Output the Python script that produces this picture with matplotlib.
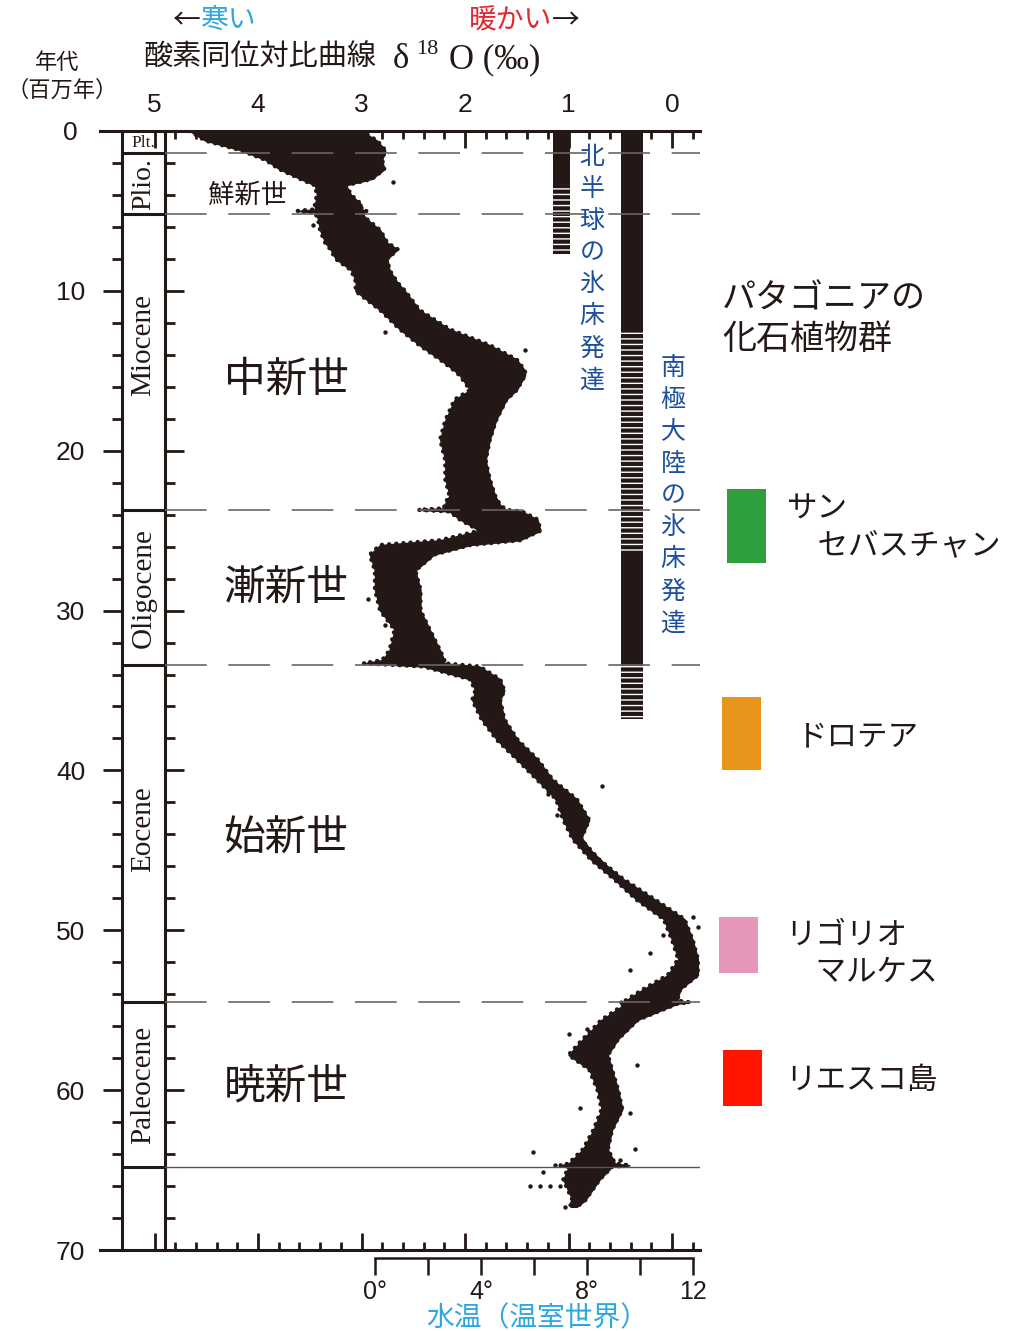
import numpy as np
import matplotlib.pyplot as plt
from matplotlib.ticker import MultipleLocator, FixedLocator, NullFormatter

ink = '#231815'
plt.rcParams['font.family'] = ['Noto Sans CJK JP', 'DejaVu Sans']
plt.rcParams['hatch.linewidth'] = 3.0
plt.rcParams['hatch.color'] = ink

# δ18O cloud: age (Ma), cold edge and warm edge (‰)
band_age = [0.0, 0.6, 1.2, 1.8, 2.4, 3.0, 3.4, 4.0, 4.6, 4.9,
            5.0, 5.1, 5.5, 6.2, 7.0, 7.4, 8.0, 8.7, 9.5, 10.0,
            11.2, 12.4, 13.4, 14.3, 15.0, 15.3, 16.2, 16.8, 18.1, 19.3,
            20.6, 21.8, 22.8, 23.4, 23.6, 23.7, 23.8, 24.3, 25.0, 25.6,
            25.9, 26.5, 27.5, 28.7, 30.0, 31.2, 32.5, 33.1, 33.3, 33.5,
            34.3, 35.0, 35.6, 36.8, 38.1, 39.3, 40.6, 41.8, 43.1, 44.3,
            45.6, 46.8, 48.1, 49.3, 50.6, 51.8, 52.8, 53.7, 54.4, 54.5,
            54.6, 55.6, 56.8, 57.8, 58.7, 60.0, 61.2, 62.5, 63.7, 64.6,
            64.7, 64.8, 65.6, 66.9, 67.3]
band_cold = [4.66, 4.51, 4.17, 3.93, 3.79, 3.59, 3.45, 3.43, 3.45, 3.45,
             3.62, 3.45, 3.42, 3.40, 3.35, 3.30, 3.25, 3.10, 3.05, 3.06,
             2.82, 2.63, 2.44, 2.24, 2.10, 2.05, 1.95, 2.10, 2.19, 2.24,
             2.19, 2.19, 2.15, 2.20, 2.20, 2.45, 2.15, 2.05, 1.86, 2.24,
             2.82, 2.92, 2.87, 2.87, 2.82, 2.68, 2.73, 2.80, 2.98, 2.40,
             1.95, 1.90, 1.93, 1.84, 1.69, 1.50, 1.30, 1.12, 1.05, 0.96,
             0.78, 0.56, 0.34, 0.08, 0.00, -0.06, 0.04, 0.28, 0.45, 0.50,
             0.45, 0.68, 0.86, 1.00, 0.80, 0.72, 0.68, 0.76, 0.86, 1.00,
             1.08, 1.00, 1.05, 0.96, 0.97]
band_warm = [3.00, 2.85, 2.77, 2.80, 2.78, 2.90, 3.15, 3.10, 3.00, 3.00,
             2.95, 3.00, 2.95, 2.82, 2.75, 2.65, 2.75, 2.73, 2.65, 2.58,
             2.44, 2.15, 1.76, 1.50, 1.42, 1.42, 1.50, 1.60, 1.70, 1.76,
             1.80, 1.76, 1.71, 1.66, 1.62, 1.60, 1.45, 1.30, 1.27, 1.47,
             1.95, 2.30, 2.48, 2.43, 2.43, 2.34, 2.24, 2.20, 2.20, 1.86,
             1.66, 1.62, 1.66, 1.62, 1.49, 1.30, 1.15, 0.92, 0.80, 0.88,
             0.70, 0.47, 0.16, -0.12, -0.20, -0.25, -0.25, -0.08, -0.05, -0.17,
             -0.05, 0.33, 0.52, 0.62, 0.58, 0.52, 0.48, 0.58, 0.62, 0.55,
             0.41, 0.58, 0.70, 0.84, 0.92]

# smoothed curve through the Paleogene part
line_age = [40.6, 42.8, 45.0, 46.8, 48.4, 50.0, 51.5, 52.8, 54.0, 55.0,
            56.8, 58.1, 60.0, 61.2, 63.1, 64.7, 66.2, 67.2]
line_d18o = [1.23, 1.03, 0.79, 0.50, 0.19, -0.06, -0.15, -0.11, 0.07, 0.26,
             0.58, 0.70, 0.67, 0.62, 0.70, 0.77, 0.89, 0.99]

# scattered single samples
dot_age = [3.2, 5.9, 7.2, 9.5, 12.6, 13.7, 18.7, 26.8, 29.3, 30.9,
           41.0, 41.5, 42.8, 47.9, 49.2, 49.8, 50.3, 51.4, 52.5, 56.2,
           56.5, 58.4, 61.1, 61.4, 63.7, 63.9, 64.4, 64.7, 65.1, 66.0,
           66.0, 66.0, 66.0, 67.3]
dot_d18o = [2.70, 3.47, 3.14, 3.04, 2.77, 1.42, 1.95, 2.90, 2.94, 2.77,
            0.68, 1.20, 1.11, 0.24, -0.20, -0.25, 0.09, 0.21, 0.41, 0.82,
            1.00, 0.34, 0.89, 0.41, 0.36, 1.34, 0.50, 1.13, 1.25, 1.37,
            1.28, 1.18, 1.08, 1.03]

# ice sheets: (start Ma, end Ma)
nh_solid = [(0.0, 3.3)]
nh_partial = [(3.3, 7.7)]
ant_solid = [(0.0, 12.6), (26.4, 33.3)]
ant_partial = [(12.6, 26.4), (33.3, 36.8)]

# epochs
epoch_bounds = [1.4, 5.2, 23.7, 33.4, 54.5, 64.8]
epoch_en = ['Plio.', 'Miocene', 'Oligocene', 'Eocene', 'Paleocene']
epoch_en_age = [3.3, 13.4, 28.6, 43.7, 59.7]
epoch_jp = ['鮮新世', '中新世', '漸新世', '始新世', '暁新世']
epoch_jp_age = [4.0, 15.6, 28.6, 44.3, 59.8]

# Patagonian fossil floras
flora_names = ['サン\n\u3000セバスチャン', 'ドロテア', 'リゴリオ\n\u3000マルケス', 'リエスコ島']
flora_start = [22.4, 35.4, 49.2, 57.5]
flora_end = [27.0, 40.0, 52.7, 61.0]
flora_colors = ['#2f9e3d', '#e8931a', '#e597b9', '#ff1500']

temp_ticks = [0, 2, 4, 6, 8, 10, 12]
temp_labels = ['0°', '', '4°', '', '8°', '', '12']

W, H = 1021, 1331
fig = plt.figure(figsize=(W / 100, H / 100), dpi=100)


def fx(x):
    return x / W


def fy(y):
    return 1 - y / H


def dpx(x):
    # pixel column -> δ18O value of main axes
    return (672 - x) / 103.5


ax = fig.add_axes([fx(100), fy(1250), fx(700) - fx(100), fy(131) - fy(1250)])
ax.set_xlim(dpx(100), dpx(700))
ax.set_ylim(70, 0)

ax.fill_betweenx(band_age, band_cold, band_warm, color=ink, lw=1.0)
# beaded edges give the sample-cloud look
for edge in (band_cold, band_warm):
    ax.plot(edge, band_age, color=ink, lw=3.2, ls=(0, (0.01, 1.6)),
            dash_capstyle='round')
ax.plot(line_d18o, line_age, color=ink, lw=1.6)
ax.scatter(dot_d18o, dot_age, s=10, color=ink, lw=0)

# ice-sheet bars
for spans, x, w, hatch in [(nh_solid, 1.068, 0.164, None), (nh_partial, 1.068, 0.164, '---'),
                           (ant_solid, 0.386, 0.213, None), (ant_partial, 0.386, 0.213, '---')]:
    for a0, a1 in spans:
        if hatch:
            ax.bar(x, a1 - a0, w, bottom=a0, facecolor='white', edgecolor=ink, hatch=hatch, lw=0)
        else:
            ax.bar(x, a1 - a0, w, bottom=a0, color=ink, lw=0)

# epoch column
col_l, col_r = dpx(122), dpx(165)
ax.hlines(epoch_bounds, col_l, col_r, color=ink, lw=2.2)
inner = (165 - 100) / 600
for b in epoch_bounds[:-1]:
    ax.axhline(b, inner, 1, color='#6b6363', lw=1.2, dashes=(25, 13))
ax.axhline(epoch_bounds[-1], inner, 1, color='#555', lw=1.0)

serif = ['Liberation Serif', 'DejaVu Serif']
colc = (col_l + col_r) / 2
ax.text(colc, 0.78, 'Plt.', ha='center', va='center', fontsize=12.5, family=serif, color=ink)
for name, age in zip(epoch_en, epoch_en_age):
    size = 20 if name == 'Plio.' else 21
    ax.text(colc, age, name, rotation=90, ha='center', va='center', fontsize=size,
            family=serif, color=ink)
for name, age in zip(epoch_jp, epoch_jp_age):
    if name == '鮮新世':
        ax.text(dpx(248), age, name, ha='center', va='center', fontsize=19, color=ink)
    else:
        ax.text(dpx(286), age, name, ha='center', va='center', fontsize=30, color=ink)

# vertical labels for ice sheets
for i, ch in enumerate('北半球の氷床発達'):
    ax.text(dpx(592), 1.6 + 2.0 * i, ch, ha='center', va='center', fontsize=18, color='#1e4f9c')
for i, ch in enumerate('南極大陸の氷床発達'):
    ax.text(dpx(673), 14.8 + 2.0 * i, ch, ha='center', va='center', fontsize=18, color='#1e4f9c')

# axes styling
ax.spines['right'].set_visible(False)
ax.spines['left'].set_position(('data', col_l))
for s in ['left', 'top', 'bottom']:
    ax.spines[s].set_linewidth(2.2)
    ax.spines[s].set_color(ink)

ax.xaxis.set_major_locator(FixedLocator([5, 4, 3, 2, 1, 0]))
ax.xaxis.set_minor_locator(FixedLocator([round(4.8 - 0.2 * i, 1) for i in range(26)]))
ax.tick_params(axis='x', which='both', top=True, bottom=True, labeltop=True, labelbottom=False,
               direction='in', color=ink, width=2)
ax.tick_params(axis='x', which='major', length=12, pad=10, labelsize=19,
               labelfontfamily='Liberation Sans', labelcolor=ink)
ax.tick_params(axis='x', which='minor', length=5.5)

ax.yaxis.set_major_locator(MultipleLocator(10))
ax.yaxis.set_minor_locator(MultipleLocator(2))
ax.tick_params(axis='y', which='both', direction='out', color=ink, width=2)
ax.tick_params(axis='y', which='major', length=14, pad=23, labelsize=19,
               labelfontfamily='Liberation Sans', labelcolor=ink)
ax.tick_params(axis='y', which='minor', length=7)
for lab in ax.get_yticklabels():
    lab.set_horizontalalignment('center')

sec = ax.secondary_yaxis(inner)
sec.yaxis.set_major_locator(MultipleLocator(10))
sec.yaxis.set_minor_locator(MultipleLocator(2))
sec.yaxis.set_major_formatter(NullFormatter())
sec.tick_params(axis='y', which='both', direction='in', color=ink, width=2,
                labelleft=False, labelright=False)
sec.tick_params(axis='y', which='major', length=14)
sec.tick_params(axis='y', which='minor', length=7)
for s in sec.spines.values():
    s.set_linewidth(2.2)
    s.set_color(ink)

# temperature scale below
axt = fig.add_axes([fx(375), fy(1258), fx(693) - fx(375), 0.002])
axt.set_xlim(0, 12)
axt.set_ylim(0, 1)
axt.set_yticks([])
for s in ['top', 'left', 'right']:
    axt.spines[s].set_visible(False)
axt.spines['bottom'].set_linewidth(1.8)
axt.spines['bottom'].set_color(ink)
axt.patch.set_alpha(0)
axt.set_xticks(temp_ticks, temp_labels)
axt.tick_params(axis='x', direction='out', length=12, width=1.8, color=ink, pad=4,
                labelsize=18, labelfontfamily='Liberation Sans', labelcolor=ink)

# flora legend
axl = fig.add_axes([fx(700), fy(1250), fx(1021) - fx(700), fy(131) - fy(1250)])
axl.set_xlim(700, 1021)
axl.set_ylim(70, 0)
axl.axis('off')
axl.bar([746, 741, 738, 742], np.array(flora_end) - np.array(flora_start), 39,
        bottom=flora_start, color=flora_colors, lw=0)
axl.text(722, 11.8, 'パタゴニアの\n化石植物群', ha='left', va='center', fontsize=24.5,
         color=ink, linespacing=1.2)
label_x = [787, 797, 785, 785]
label_age = [24.8, 37.9, 51.5, 59.4]
for name, x, age in zip(flora_names, label_x, label_age):
    axl.text(x, age, name, ha='left', va='center', fontsize=22, color=ink, linespacing=1.25)

# header texts
fig.text(fx(200), fy(20), '←', ha='right', va='center', fontsize=20, color=ink)
fig.text(fx(200), fy(20), '寒い', ha='left', va='center', fontsize=20, color='#2ea7e0')
fig.text(fx(552), fy(20), '暖かい', ha='right', va='center', fontsize=20, color='#e3262f')
fig.text(fx(552), fy(20), '→', ha='left', va='center', fontsize=20, color=ink)
fig.text(fx(143), fy(57), '酸素同位対比曲線', ha='left', va='center', fontsize=21, color=ink)
fig.text(fx(393), fy(60), 'δ', ha='left', va='center', fontsize=25, family=serif, color=ink)
fig.text(fx(416), fy(50), '18', ha='left', va='center', fontsize=16, family=serif, color=ink)
fig.text(fx(449), fy(60), 'O (‰)', ha='left', va='center', fontsize=25, family=serif, color=ink)
fig.text(fx(57), fy(62), '年代', ha='center', va='center', fontsize=16, color=ink)
fig.text(fx(62), fy(90), '（百万年）', ha='center', va='center', fontsize=16, color=ink)
fig.text(fx(537), fy(1318), '水温（温室世界）', ha='center', va='center', fontsize=20, color='#2ea7e0')

fig.savefig('out.png', dpi=100, facecolor='white')
